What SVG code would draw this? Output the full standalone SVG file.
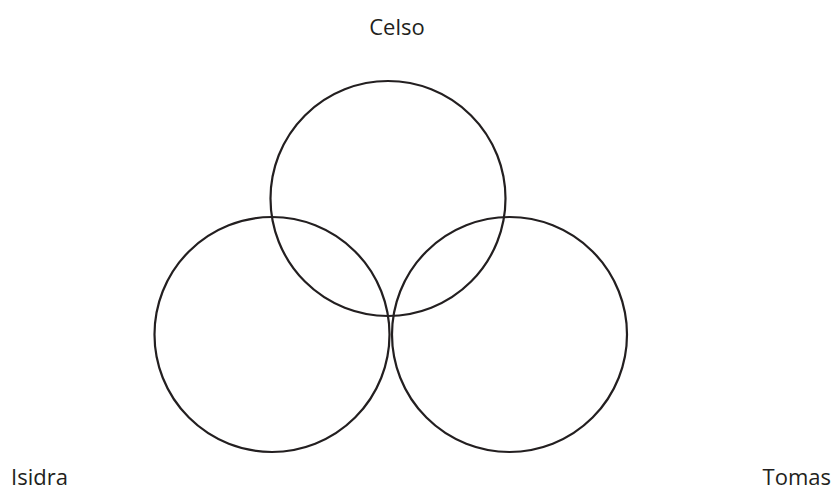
<svg xmlns="http://www.w3.org/2000/svg" width="839" height="491" viewBox="0 0 839 491">
<style>
.set{fill:none;stroke:#231f20;stroke-width:2.2}
.lbl{font-family:"Open Sans","Noto Sans",sans-serif;font-size:22px;fill:#231f20}
</style>
<rect width="839" height="491" fill="#fff"/>
<g id="celso">
<circle class="set" cx="388" cy="198.5" r="117.5"/>
<text class="lbl" x="397" y="35" text-anchor="middle">Celso</text>
</g>
<g id="isidra">
<circle class="set" cx="272" cy="334.5" r="117.5"/>
<text class="lbl" x="11" y="485">Isidra</text>
</g>
<g id="tomas">
<circle class="set" cx="509.5" cy="334.5" r="117.5"/>
<text class="lbl" x="831" y="485" text-anchor="end">Tomas</text>
</g>
<g id="connectors"></g>
</svg>
